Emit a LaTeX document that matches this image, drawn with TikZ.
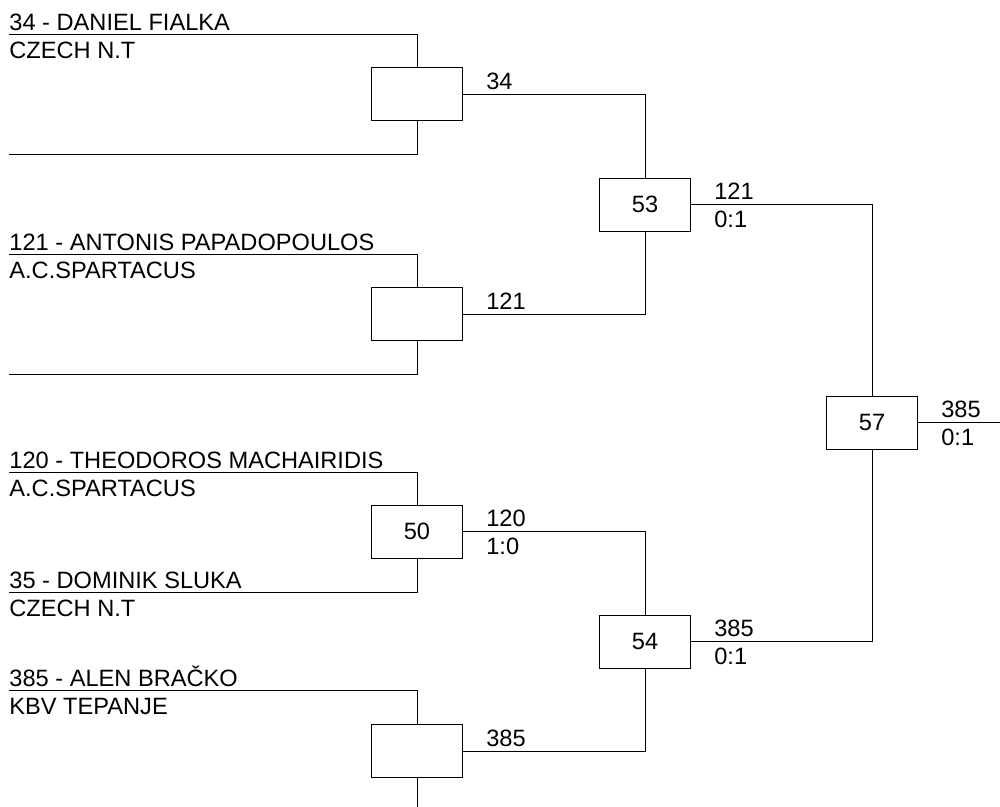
\documentclass[tikz,border=0pt]{standalone}
\usepackage{fontspec}
\setmainfont{Liberation Sans}
\usetikzlibrary{positioning}

\begin{document}
\begin{tikzpicture}[x=0.25mm, y=-0.25mm, line width=0.6pt,
    match/.style={draw, minimum width=22.75mm, minimum height=13.25mm, inner sep=0pt, font=\fontsize{16.8}{20}\selectfont},
    pname/.style={anchor=base west, inner sep=0pt, yshift=1mm, font=\fontsize{16.8}{20}\selectfont},
    pclub/.style={anchor=base west, inner sep=0pt, yshift=-6mm, font=\fontsize{16.8}{20}\selectfont},
    rtop/.style={anchor=base west, inner sep=0pt, xshift=5.75mm, yshift=1.25mm, font=\fontsize{16.8}{20}\selectfont},
    rbot/.style={anchor=base west, inner sep=0pt, xshift=5.75mm, yshift=-5.75mm, font=\fontsize{16.8}{20}\selectfont}]
        \useasboundingbox (0,0) rectangle (1000,807);

        % Player lines
        \coordinate (p1) at (9,34);
        \coordinate (p2) at (9,154);
        \coordinate (p3) at (9,254);
        \coordinate (p4) at (9,374);
        \coordinate (p5) at (9,472);
        \coordinate (p6) at (9,592);
        \coordinate (p7) at (9,690);
        \coordinate (p8) at (417,807);

        % Player names and clubs
        \node[pname] (name1) at (p1) {34 - DANIEL FIALKA};
        \node[pclub] (club1) at (p1) {CZECH N.T};
        \node[pname] (name3) at (p3) {121 - ANTONIS PAPADOPOULOS};
        \node[pclub] (club3) at (p3) {A.C.SPARTACUS};
        \node[pname] (name5) at (p5) {120 - THEODOROS MACHAIRIDIS};
        \node[pclub] (club5) at (p5) {A.C.SPARTACUS};
        \node[pname] (name6) at (p6) {35 - DOMINIK SLUKA};
        \node[pclub] (club6) at (p6) {CZECH N.T};
        \node[pname] (name7) at (p7) {385 - ALEN BRAČKO};
        \node[pclub] (club7) at (p7) {KBV TEPANJE};

        % Match boxes
        \node[match] (m1) at (417,94) {};
        \node[match] (m2) at (417,314) {};
        \node[match] (m50) at (417,531.5) {50};
        \node[match] (m4) at (417,751) {};
        \node[match] (m53) at (645,204.5) {53};
        \node[match] (m54) at (645,641.5) {54};
        \node[match] (m57) at (872,422.5) {57};
        \coordinate (out) at (1000,422.5);

        % Connectors
        \draw (p1) -| (m1.north);
        \draw (p2) -| (m1.south);
        \draw (p3) -| (m2.north);
        \draw (p4) -| (m2.south);
        \draw (p5) -| (m50.north);
        \draw (p6) -| (m50.south);
        \draw (p7) -| (m4.north);
        \draw (m4.south) -- (p8);
        \draw (m1.east) -| (m53.north);
        \draw (m2.east) -| (m53.south);
        \draw (m50.east) -| (m54.north);
        \draw (m4.east) -| (m54.south);
        \draw (m53.east) -| (m57.north);
        \draw (m54.east) -| (m57.south);
        \draw (m57.east) -- (out);

        % Winners and scores
        \node[rtop] (w1) at (m1.east) {34};
        \node[rtop] (w2) at (m2.east) {121};
        \node[rtop] (w50) at (m50.east) {120};
        \node[rbot] (s50) at (m50.east) {1:0};
        \node[rtop] (w4) at (m4.east) {385};
        \node[rtop] (w53) at (m53.east) {121};
        \node[rbot] (s53) at (m53.east) {0:1};
        \node[rtop] (w54) at (m54.east) {385};
        \node[rbot] (s54) at (m54.east) {0:1};
        \node[rtop] (w57) at (m57.east) {385};
        \node[rbot] (s57) at (m57.east) {0:1};
    \end{tikzpicture}
\end{document}
